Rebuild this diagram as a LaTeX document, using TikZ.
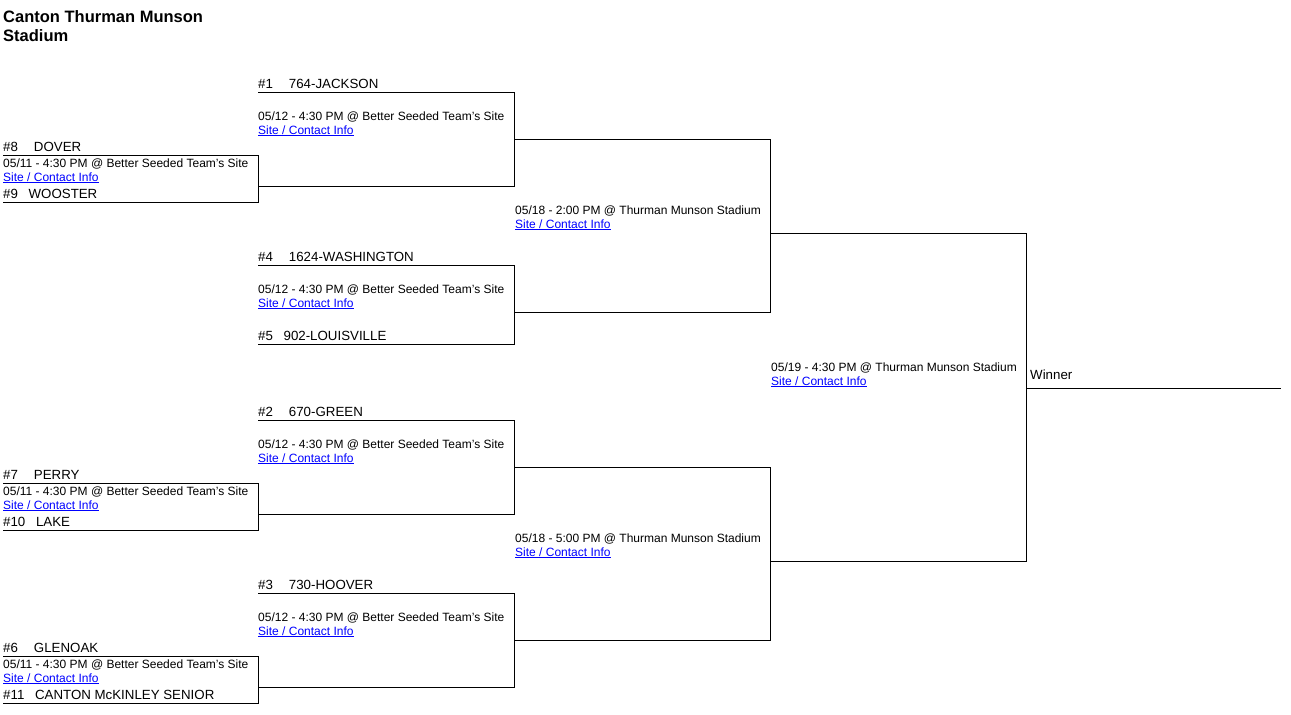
\documentclass[tikz,border=0pt]{standalone}
\usepackage{fontspec}
\setmainfont{Liberation Sans}
\begin{document}
\begin{tikzpicture}[x=1pt,y=-1pt,
  team/.style={anchor=base west,inner sep=0pt,font=\fontsize{13.3}{13}\selectfont},
  info/.style={anchor=base west,inner sep=0pt,font=\fontsize{12}{12}\selectfont},
  lnk/.style={anchor=base west,inner sep=0pt,font=\fontsize{12}{12}\selectfont,text=blue},
  br/.style={line width=0.8pt}]
\useasboundingbox (0,0) rectangle (1291,715);
\node[anchor=base west,inner sep=0pt,font=\fontsize{16.5}{19}\selectfont\bfseries] (title) at (3,22) {Canton Thurman Munson};
\node[anchor=base west,inner sep=0pt,font=\fontsize{16.5}{19}\selectfont\bfseries] (title2) at (3,41) {Stadium};
\newcommand{\mymatch}[7]{%
  \draw[br] (#1,#3) -- (#2,#3) -- (#2,#4) -- (#1,#4);
  \node[team] at (#1,#3-4) {#5};
  \node[team] at (#1,#4-4) {#6};
}
\newcommand{\myinfo}[3]{%
  \node[info] at (#1,#2) {#3};
  \node[lnk] at (#1,#2+14) {\underline{Site / Contact Info}};
}
% round 1
\mymatch{3}{258}{155}{202}{\#8\hspace{1.2em}DOVER}{\#9\hspace{0.8em}WOOSTER}{}
\myinfo{3}{167}{05/11 - 4:30 PM @ Better Seeded Team's Site}
\mymatch{3}{258}{483}{530}{\#7\hspace{1.2em}PERRY}{\#10\hspace{0.8em}LAKE}{}
\myinfo{3}{495}{05/11 - 4:30 PM @ Better Seeded Team's Site}
\mymatch{3}{258}{656}{703}{\#6\hspace{1.2em}GLENOAK}{\#11\hspace{0.8em}CANTON McKINLEY SENIOR}{}
\myinfo{3}{668}{05/11 - 4:30 PM @ Better Seeded Team's Site}
% round 2
\mymatch{258}{514}{92}{186}{\#1\hspace{1.2em}764-JACKSON}{}{}
\myinfo{258}{120}{05/12 - 4:30 PM @ Better Seeded Team's Site}
\mymatch{258}{514}{265}{344}{\#4\hspace{1.2em}1624-WASHINGTON}{\#5\hspace{0.8em}902-LOUISVILLE}{}
\myinfo{258}{293}{05/12 - 4:30 PM @ Better Seeded Team's Site}
\mymatch{258}{514}{420}{514}{\#2\hspace{1.2em}670-GREEN}{}{}
\myinfo{258}{448}{05/12 - 4:30 PM @ Better Seeded Team's Site}
\mymatch{258}{514}{593}{687}{\#3\hspace{1.2em}730-HOOVER}{}{}
\myinfo{258}{621}{05/12 - 4:30 PM @ Better Seeded Team's Site}
% round 3
\mymatch{514}{770}{139}{312}{}{}{}
\myinfo{515}{214}{05/18 - 2:00 PM @ Thurman Munson Stadium}
\mymatch{514}{770}{467}{640}{}{}{}
\myinfo{515}{542}{05/18 - 5:00 PM @ Thurman Munson Stadium}
% final
\mymatch{770}{1026}{233}{561}{}{}{}
\myinfo{771}{371}{05/19 - 4:30 PM @ Thurman Munson Stadium}
\draw[br] (1026,388) -- (1281,388);
\node[team] (winner) at (1030,379) {Winner};
\end{tikzpicture}
\end{document}
